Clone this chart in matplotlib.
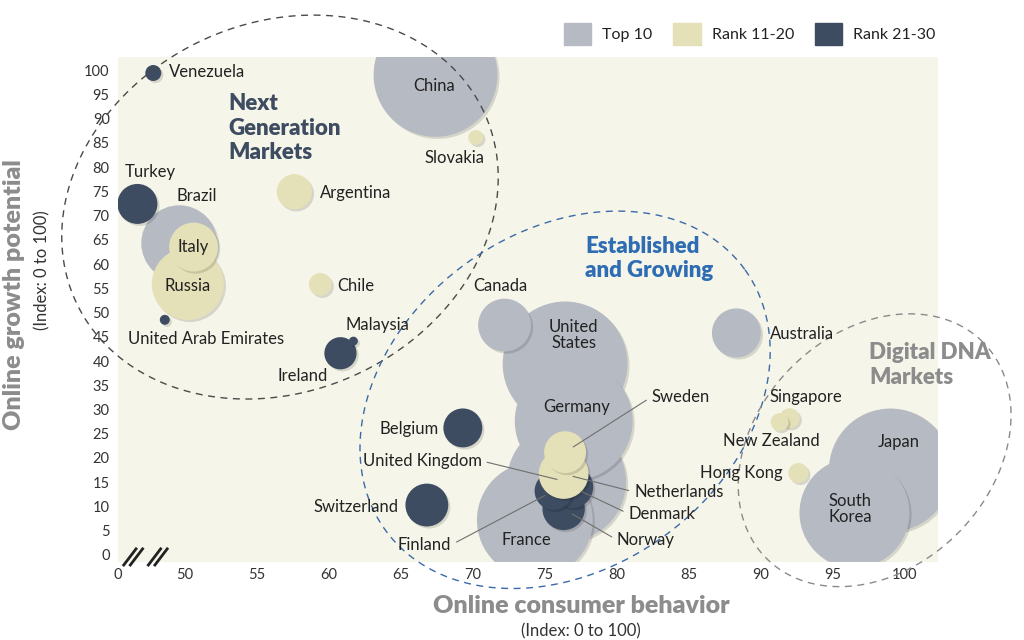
import matplotlib.pyplot as plt
import numpy as np
from matplotlib import patheffects as pe
from matplotlib.patches import Patch

plt.rcParams['font.family'] = ['Lato', 'DejaVu Sans']

# --- data -------------------------------------------------------------
countries = ['China', 'Brazil', 'Canada', 'United\nStates', 'Australia', 'Germany',
             'United Kingdom', 'France', 'Japan', 'South\nKorea',
             'Italy', 'Russia', 'Argentina', 'Chile', 'Slovakia', 'Sweden',
             'Netherlands', 'Singapore', 'New Zealand', 'Hong Kong',
             'Venezuela', 'Turkey', 'United Arab Emirates', 'Ireland', 'Malaysia',
             'Belgium', 'Switzerland', 'Finland', 'Denmark', 'Norway']
consumer = [67.4, 49.6, 72.2, 76.4, 88.3, 77.0, 76.5, 74.3, 99.0, 96.5,
            50.6, 50.2, 57.6, 59.4, 70.2, 76.4, 76.3, 92.0, 91.3, 92.6,
            47.8, 46.7, 48.6, 60.8, 61.7, 69.3, 66.8, 75.6, 76.9, 76.3]
growth = [99.0, 64.3, 47.4, 39.4, 45.8, 27.6, 15.1, 7.2, 17.5, 8.7,
          63.5, 55.9, 74.9, 55.8, 86.1, 21.2, 16.7, 28.2, 27.4, 16.9,
          99.4, 72.4, 48.5, 41.6, 44.1, 26.2, 10.3, 13.2, 14.0, 9.5]
market = [38.4, 14.4, 7.0, 39.0, 6.0, 34.8, 35.5, 33.6, 38.0, 30.3,
          6.0, 13.0, 3.1, 1.3, 0.56, 4.4, 6.2, 1.0, 0.8, 1.0,
          0.64, 4.0, 0.25, 2.6, 0.2, 3.8, 4.6, 3.6, 4.4, 4.5]
tier = [0, 0, 0, 0, 0, 0, 0, 0, 0, 0,
        1, 1, 1, 1, 1, 1, 1, 1, 1, 1,
        2, 2, 2, 2, 2, 2, 2, 2, 2, 2]
tier_names = ['Top 10', 'Rank 11-20', 'Rank 21-30']
x_ticks = [50, 55, 60, 65, 70, 75, 80, 85, 90, 95, 100]
y_ticks = list(range(0, 101, 5))

# label placement (data coords) and alignment
label_pos = {
    'China': (67.3, 96.7, 'center'), 'Brazil': (50.8, 74.0, 'center'),
    'Canada': (71.9, 55.5, 'center'), 'United\nStates': (77.0, 45.4, 'center'),
    'Australia': (90.6, 45.6, 'left'), 'Germany': (77.2, 30.5, 'center'),
    'United Kingdom': (70.6, 19.4, 'right'), 'France': (73.7, 3.1, 'center'),
    'Japan': (99.6, 23.3, 'center'), 'South\nKorea': (96.2, 9.5, 'center'),
    'Italy': (50.6, 63.5, 'center'), 'Russia': (50.2, 55.5, 'center'),
    'Argentina': (59.4, 74.6, 'left'), 'Chile': (60.6, 55.5, 'left'),
    'Slovakia': (68.7, 81.9, 'center'), 'Sweden': (82.4, 32.6, 'left'),
    'Netherlands': (81.2, 13.0, 'left'), 'Singapore': (90.6, 32.6, 'left'),
    'New Zealand': (87.4, 23.5, 'left'), 'Hong Kong': (85.8, 16.9, 'left'),
    'Venezuela': (48.9, 99.6, 'left'), 'Turkey': (47.6, 79.0, 'center'),
    'United Arab Emirates': (51.5, 44.5, 'center'), 'Ireland': (58.2, 36.9, 'center'),
    'Malaysia': (63.4, 47.4, 'center'), 'Belgium': (67.6, 26.0, 'right'),
    'Switzerland': (64.8, 9.9, 'right'), 'Finland': (68.5, 2.1, 'right'),
    'Denmark': (80.8, 8.5, 'left'), 'Norway': (80.0, 3.1, 'left'),
}
leaders = ['United Kingdom', 'Sweden', 'Netherlands', 'Denmark', 'Norway', 'Finland']

colors = ['#b6bac3', '#e4e0b7', '#3d4c61']
layer = [0, 2, 1]   # gray bubbles at the back, beige on top

# --- figure -----------------------------------------------------------
fig = plt.figure(figsize=(10.24, 6.4), dpi=100)
ax = fig.add_axes([118 / 1024, 78 / 640, 820 / 1024, 505 / 640])
ax.set_facecolor('#f6f5e9')
ax.set_xlim(45.35, 102.3)
ax.set_ylim(-1.45, 102.7)
for s in ax.spines.values():
    s.set_visible(False)

ax.set_xticks([45.35] + x_ticks)
ax.set_xticklabels(['0'] + [str(v) for v in x_ticks])
ax.set_yticks(y_ticks)
ax.tick_params(length=0, labelsize=10.5, colors='#333333')
ax.tick_params(axis='y', pad=6)
ax.tick_params(axis='x', pad=4)

shadow = [pe.SimplePatchShadow(offset=(1.5, -1.5), shadow_rgbFace='k', alpha=0.13), pe.Normal()]
order = sorted(range(len(countries)), key=lambda i: (layer[tier[i]], -market[i]))
for z, i in enumerate(order):
    ax.scatter(consumer[i], growth[i], s=market[i] * 207, color=colors[tier[i]],
               edgecolors='none', zorder=2 + z * 0.01, path_effects=shadow)

idx = {c: i for i, c in enumerate(countries)}
for c, (lx, ly, ha) in label_pos.items():
    if c in leaders:
        i = idx[c]
        rel = (1, 0.5) if ha == 'right' else (0, 0.5)
        ax.annotate(c, xy=(consumer[i], growth[i]), xytext=(lx, ly), ha=ha, va='center',
                    fontsize=12, color='#222222', zorder=10,
                    arrowprops=dict(arrowstyle='-', color='#6f6f6f', lw=0.8,
                                    shrinkA=2, shrinkB=7, relpos=rel))
    else:
        ax.text(lx, ly, c, ha=ha, va='center', fontsize=12, color='#222222',
                zorder=10, linespacing=1.0)


def ring(cx, cy, w, h, angle, color):
    t = np.linspace(0, 2 * np.pi, 400)
    px0, py0 = ax.transData.transform((cx, cy))
    a = np.deg2rad(angle)
    ex, ey = w / 2 * np.cos(t), h / 2 * np.sin(t)
    dx = ex * np.cos(a) - ey * np.sin(a)
    dy = ex * np.sin(a) + ey * np.cos(a)
    pts = ax.transData.inverted().transform(np.column_stack([px0 + dx, py0 + dy]))
    ax.plot(pts[:, 0], pts[:, 1], ls=(0, (5, 4)), lw=1, color=color,
            clip_on=False, zorder=9)


ring(56.6, 71.75, 450, 368, 25, '#4a4a4a')
ring(76.4, 32.0, 444, 337, 36, '#3a6aa8')
ring(97.9, 21.6, 306, 235, 45, '#8a8a8a')

ax.text(53.05, 88.0, 'Next\nGeneration\nMarkets', fontsize=16, fontweight='heavy',
        color='#3d4c61', va='center', ha='left', linespacing=1.2, zorder=11)
ax.text(77.8, 61.2, 'Established\nand Growing', fontsize=16, fontweight='heavy',
        color='#2e6db4', va='center', ha='left', linespacing=1.2, zorder=11)
ax.text(97.5, 39.2, 'Digital DNA\nMarkets', fontsize=16, fontweight='heavy',
        color='#8c8c8c', va='center', ha='left', linespacing=1.2, zorder=11)

# axis break marks
for x0 in [0.007, 0.015, 0.037, 0.045]:
    ax.plot([x0, x0 + 0.015], [-0.006, 0.026], transform=ax.transAxes,
            color='#222222', lw=2, clip_on=False, zorder=12)

fig.text(581 / 1024, 1 - 606 / 640, 'Online consumer behavior', ha='center', va='center',
         fontsize=18, fontweight='heavy', color='#8c8c8c')
fig.text(581 / 1024, 1 - 631 / 640, '(Index: 0 to 100)', ha='center', va='center',
         fontsize=12, color='#333333')
fig.text(14 / 1024, 1 - 295 / 640, 'Online growth potential', ha='center', va='center',
         rotation=90, fontsize=18, fontweight='heavy', color='#8c8c8c')
fig.text(42 / 1024, 1 - 270 / 640, '(Index: 0 to 100)', ha='center', va='center',
         rotation=90, fontsize=12, color='#333333')

handles = [Patch(color=c) for c in colors]
fig.legend(handles, tier_names, loc='upper right', bbox_to_anchor=(950 / 1024, 1 - 9 / 640),
           ncol=3, frameon=False, fontsize=11.5, handlelength=1.7, handleheight=1.7,
           handletextpad=0.7, columnspacing=1.3, labelcolor='#222222')

fig.savefig('out.png', dpi=100, facecolor='white')
